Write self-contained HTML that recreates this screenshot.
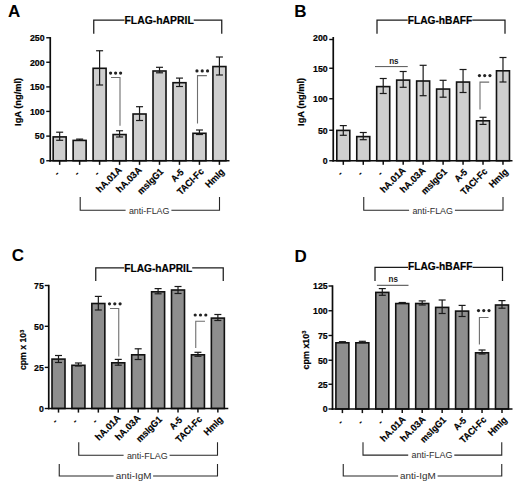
<!DOCTYPE html>
<html><head><meta charset="utf-8"><title>Figure</title>
<style>
html,body{margin:0;padding:0;background:#fff;}
body{width:520px;height:489px;overflow:hidden;font-family:"Liberation Sans", sans-serif;}
svg{display:block;font-family:"Liberation Sans", sans-serif;}
</style></head>
<body>
<svg width="520" height="489" viewBox="0 0 520 489">
<rect width="520" height="489" fill="#fff"/>
<rect x="53.16" y="136.90" width="13.00" height="23.85" fill="#cfcfcf" stroke="#111" stroke-width="1.6"/>
<line x1="59.66" y1="132.2" x2="59.66" y2="140.3" stroke="#1a1a1a" stroke-width="1.2"/>
<line x1="56.16" y1="132.2" x2="63.16" y2="132.2" stroke="#1a1a1a" stroke-width="1.2"/>
<line x1="56.16" y1="140.3" x2="63.16" y2="140.3" stroke="#1a1a1a" stroke-width="1.2"/>
<line x1="59.66" y1="160.75" x2="59.66" y2="164.85" stroke="#111" stroke-width="1.5"/>
<text x="59.96" y="174.35" font-size="9.5" font-weight="bold" text-anchor="end" fill="#000" transform="rotate(-45 59.96 174.35)" >-</text>
<rect x="73.13" y="140.40" width="13.00" height="20.35" fill="#cfcfcf" stroke="#111" stroke-width="1.6"/>
<line x1="79.63" y1="139.1" x2="79.63" y2="140.2" stroke="#1a1a1a" stroke-width="1.2"/>
<line x1="76.13" y1="139.1" x2="83.13" y2="139.1" stroke="#1a1a1a" stroke-width="1.2"/>
<line x1="76.13" y1="140.2" x2="83.13" y2="140.2" stroke="#1a1a1a" stroke-width="1.2"/>
<line x1="79.63" y1="160.75" x2="79.63" y2="164.85" stroke="#111" stroke-width="1.5"/>
<text x="79.92999999999999" y="174.35" font-size="9.5" font-weight="bold" text-anchor="end" fill="#000" transform="rotate(-45 79.92999999999999 174.35)" >-</text>
<rect x="93.10" y="68.30" width="13.00" height="92.45" fill="#cfcfcf" stroke="#111" stroke-width="1.6"/>
<line x1="99.6" y1="50.75" x2="99.6" y2="85" stroke="#1a1a1a" stroke-width="1.2"/>
<line x1="96.1" y1="50.75" x2="103.1" y2="50.75" stroke="#1a1a1a" stroke-width="1.2"/>
<line x1="96.1" y1="85" x2="103.1" y2="85" stroke="#1a1a1a" stroke-width="1.2"/>
<line x1="99.6" y1="160.75" x2="99.6" y2="164.85" stroke="#111" stroke-width="1.5"/>
<text x="99.89999999999999" y="174.35" font-size="9.5" font-weight="bold" text-anchor="end" fill="#000" transform="rotate(-45 99.89999999999999 174.35)" >-</text>
<rect x="113.07" y="134.55" width="13.00" height="26.20" fill="#cfcfcf" stroke="#111" stroke-width="1.6"/>
<line x1="119.57" y1="130.75" x2="119.57" y2="137" stroke="#1a1a1a" stroke-width="1.2"/>
<line x1="116.07" y1="130.75" x2="123.07" y2="130.75" stroke="#1a1a1a" stroke-width="1.2"/>
<line x1="116.07" y1="137" x2="123.07" y2="137" stroke="#1a1a1a" stroke-width="1.2"/>
<line x1="119.57" y1="160.75" x2="119.57" y2="164.85" stroke="#111" stroke-width="1.5"/>
<text x="122.36999999999999" y="170.65" font-size="9.5" font-weight="bold" text-anchor="end" fill="#000" textLength="31.5" lengthAdjust="spacingAndGlyphs" transform="rotate(-45 122.36999999999999 170.65)" stroke="#000" stroke-width="0.2">hA.01A</text>
<rect x="133.04" y="114.00" width="13.00" height="46.75" fill="#cfcfcf" stroke="#111" stroke-width="1.6"/>
<line x1="139.54000000000002" y1="106.7" x2="139.54000000000002" y2="120.5" stroke="#1a1a1a" stroke-width="1.2"/>
<line x1="136.04000000000002" y1="106.7" x2="143.04000000000002" y2="106.7" stroke="#1a1a1a" stroke-width="1.2"/>
<line x1="136.04000000000002" y1="120.5" x2="143.04000000000002" y2="120.5" stroke="#1a1a1a" stroke-width="1.2"/>
<line x1="139.54000000000002" y1="160.75" x2="139.54000000000002" y2="164.85" stroke="#111" stroke-width="1.5"/>
<text x="142.34000000000003" y="170.65" font-size="9.5" font-weight="bold" text-anchor="end" fill="#000" textLength="31.5" lengthAdjust="spacingAndGlyphs" transform="rotate(-45 142.34000000000003 170.65)" stroke="#000" stroke-width="0.2">hA.03A</text>
<rect x="153.01" y="71.00" width="13.00" height="89.75" fill="#cfcfcf" stroke="#111" stroke-width="1.6"/>
<line x1="159.51" y1="67.3" x2="159.51" y2="72.8" stroke="#1a1a1a" stroke-width="1.2"/>
<line x1="156.01" y1="67.3" x2="163.01" y2="67.3" stroke="#1a1a1a" stroke-width="1.2"/>
<line x1="156.01" y1="72.8" x2="163.01" y2="72.8" stroke="#1a1a1a" stroke-width="1.2"/>
<line x1="159.51" y1="160.75" x2="159.51" y2="164.85" stroke="#111" stroke-width="1.5"/>
<text x="164.01" y="172.35" font-size="9.5" font-weight="bold" text-anchor="end" fill="#000" textLength="32" lengthAdjust="spacingAndGlyphs" transform="rotate(-45 164.01 172.35)" stroke="#000" stroke-width="0.2">msIgG1</text>
<rect x="172.98" y="82.70" width="13.00" height="78.05" fill="#cfcfcf" stroke="#111" stroke-width="1.6"/>
<line x1="179.48000000000002" y1="78.1" x2="179.48000000000002" y2="86.5" stroke="#1a1a1a" stroke-width="1.2"/>
<line x1="175.98000000000002" y1="78.1" x2="182.98000000000002" y2="78.1" stroke="#1a1a1a" stroke-width="1.2"/>
<line x1="175.98000000000002" y1="86.5" x2="182.98000000000002" y2="86.5" stroke="#1a1a1a" stroke-width="1.2"/>
<line x1="179.48000000000002" y1="160.75" x2="179.48000000000002" y2="164.85" stroke="#111" stroke-width="1.5"/>
<text x="184.28000000000003" y="172.85" font-size="9.5" font-weight="bold" text-anchor="end" fill="#000" textLength="13.5" lengthAdjust="spacingAndGlyphs" transform="rotate(-45 184.28000000000003 172.85)" stroke="#000" stroke-width="0.2">A-5</text>
<rect x="192.95" y="133.30" width="13.00" height="27.45" fill="#cfcfcf" stroke="#111" stroke-width="1.6"/>
<line x1="199.45" y1="130" x2="199.45" y2="134.5" stroke="#1a1a1a" stroke-width="1.2"/>
<line x1="195.95" y1="130" x2="202.95" y2="130" stroke="#1a1a1a" stroke-width="1.2"/>
<line x1="195.95" y1="134.5" x2="202.95" y2="134.5" stroke="#1a1a1a" stroke-width="1.2"/>
<line x1="199.45" y1="160.75" x2="199.45" y2="164.85" stroke="#111" stroke-width="1.5"/>
<text x="204.35" y="172.15" font-size="9.5" font-weight="bold" text-anchor="end" fill="#000" textLength="33" lengthAdjust="spacingAndGlyphs" transform="rotate(-45 204.35 172.15)" stroke="#000" stroke-width="0.2">TACI-Fc</text>
<rect x="212.92" y="66.55" width="13.00" height="94.20" fill="#cfcfcf" stroke="#111" stroke-width="1.6"/>
<line x1="219.42000000000002" y1="57" x2="219.42000000000002" y2="75" stroke="#1a1a1a" stroke-width="1.2"/>
<line x1="215.92000000000002" y1="57" x2="222.92000000000002" y2="57" stroke="#1a1a1a" stroke-width="1.2"/>
<line x1="215.92000000000002" y1="75" x2="222.92000000000002" y2="75" stroke="#1a1a1a" stroke-width="1.2"/>
<line x1="219.42000000000002" y1="160.75" x2="219.42000000000002" y2="164.85" stroke="#111" stroke-width="1.5"/>
<text x="225.02" y="172.45000000000002" font-size="9.5" font-weight="bold" text-anchor="end" fill="#000" textLength="22.5" lengthAdjust="spacingAndGlyphs" transform="rotate(-45 225.02 172.45000000000002)" stroke="#000" stroke-width="0.2">HmIg</text>
<line x1="50.25" y1="37.05" x2="50.25" y2="161.6" stroke="#0c0c0c" stroke-width="1.7"/>
<line x1="49.4" y1="160.75" x2="229.5" y2="160.75" stroke="#0c0c0c" stroke-width="1.7"/>
<line x1="46.25" y1="37.75" x2="50.25" y2="37.75" stroke="#0c0c0c" stroke-width="1.4"/>
<text x="44.55" y="41.1" font-size="9.6" font-weight="bold" text-anchor="end" fill="#000" textLength="14.64" lengthAdjust="spacingAndGlyphs" stroke="#000" stroke-width="0.2">250</text>
<line x1="46.25" y1="62.25" x2="50.25" y2="62.25" stroke="#0c0c0c" stroke-width="1.4"/>
<text x="44.55" y="65.6" font-size="9.6" font-weight="bold" text-anchor="end" fill="#000" textLength="14.64" lengthAdjust="spacingAndGlyphs" stroke="#000" stroke-width="0.2">200</text>
<line x1="46.25" y1="86.9" x2="50.25" y2="86.9" stroke="#0c0c0c" stroke-width="1.4"/>
<text x="44.55" y="90.25" font-size="9.6" font-weight="bold" text-anchor="end" fill="#000" textLength="14.64" lengthAdjust="spacingAndGlyphs" stroke="#000" stroke-width="0.2">150</text>
<line x1="46.25" y1="111.4" x2="50.25" y2="111.4" stroke="#0c0c0c" stroke-width="1.4"/>
<text x="44.55" y="114.75" font-size="9.6" font-weight="bold" text-anchor="end" fill="#000" textLength="14.64" lengthAdjust="spacingAndGlyphs" stroke="#000" stroke-width="0.2">100</text>
<line x1="46.25" y1="136.1" x2="50.25" y2="136.1" stroke="#0c0c0c" stroke-width="1.4"/>
<text x="44.55" y="139.45" font-size="9.6" font-weight="bold" text-anchor="end" fill="#000" textLength="9.76" lengthAdjust="spacingAndGlyphs" stroke="#000" stroke-width="0.2">50</text>
<line x1="46.25" y1="160.75" x2="50.25" y2="160.75" stroke="#0c0c0c" stroke-width="1.4"/>
<text x="44.55" y="164.1" font-size="9.6" font-weight="bold" text-anchor="end" fill="#000" textLength="4.88" lengthAdjust="spacingAndGlyphs" stroke="#000" stroke-width="0.2">0</text>
<text x="7.9" y="16.8" font-size="17" font-weight="bold" text-anchor="start" fill="#000" >A</text>
<polyline points="93.75,33.75 93.75,20.1 124.5,20.1" fill="none" stroke="#1c1c1c" stroke-width="1.25"/>
<polyline points="193.75,20.1 221.75,20.1 221.75,33.75" fill="none" stroke="#1c1c1c" stroke-width="1.25"/>
<text x="124.5" y="24.0" font-size="11.5" font-weight="bold" text-anchor="start" fill="#000" textLength="69.25" lengthAdjust="spacingAndGlyphs" stroke="#000" stroke-width="0.2">FLAG-hAPRIL</text>
<polyline points="80.2,197 80.2,210.3 125.60000000000001,210.3" fill="none" stroke="#262626" stroke-width="1.1"/>
<polyline points="171.4,210.3 219.5,210.3 219.5,197" fill="none" stroke="#262626" stroke-width="1.1"/>
<text x="128.9" y="213.60000000000002" font-size="9.5" font-weight="normal" text-anchor="start" fill="#2e2e2e" textLength="40.599999999999994" lengthAdjust="spacingAndGlyphs" >anti-FLAG</text>
<text x="21.3" y="101.9" font-size="9.5" font-weight="bold" text-anchor="middle" fill="#000" textLength="48" lengthAdjust="spacingAndGlyphs" transform="rotate(-90 21.3 101.9)" stroke="#000" stroke-width="0.2">IgA (ng/ml)</text>
<circle cx="110.60" cy="73.1" r="1.6" fill="#222"/><circle cx="115.60" cy="73.1" r="1.6" fill="#222"/><circle cx="120.60" cy="73.1" r="1.6" fill="#222"/>
<polyline points="111,77.5 120,77.5 120,125.75" fill="none" stroke="#6e6e6e" stroke-width="1.1"/>
<circle cx="196.95" cy="70.9" r="1.6" fill="#222"/><circle cx="202.25" cy="70.9" r="1.6" fill="#222"/><circle cx="207.55" cy="70.9" r="1.6" fill="#222"/>
<polyline points="206.9,75.6 197.5,75.6 197.5,123.5" fill="none" stroke="#6e6e6e" stroke-width="1.1"/>
<rect x="336.80" y="130.40" width="13.00" height="30.35" fill="#cfcfcf" stroke="#111" stroke-width="1.6"/>
<line x1="343.3" y1="125.6" x2="343.3" y2="135.3" stroke="#1a1a1a" stroke-width="1.2"/>
<line x1="339.8" y1="125.6" x2="346.8" y2="125.6" stroke="#1a1a1a" stroke-width="1.2"/>
<line x1="339.8" y1="135.3" x2="346.8" y2="135.3" stroke="#1a1a1a" stroke-width="1.2"/>
<line x1="343.3" y1="160.75" x2="343.3" y2="164.85" stroke="#111" stroke-width="1.5"/>
<text x="343.25" y="174.25" font-size="9.5" font-weight="bold" text-anchor="end" fill="#000" transform="rotate(-45 343.25 174.25)" >-</text>
<rect x="356.76" y="136.60" width="13.00" height="24.15" fill="#cfcfcf" stroke="#111" stroke-width="1.6"/>
<line x1="363.26" y1="132.5" x2="363.26" y2="139.7" stroke="#1a1a1a" stroke-width="1.2"/>
<line x1="359.76" y1="132.5" x2="366.76" y2="132.5" stroke="#1a1a1a" stroke-width="1.2"/>
<line x1="359.76" y1="139.7" x2="366.76" y2="139.7" stroke="#1a1a1a" stroke-width="1.2"/>
<line x1="363.26" y1="160.75" x2="363.26" y2="164.85" stroke="#111" stroke-width="1.5"/>
<text x="363.21" y="174.25" font-size="9.5" font-weight="bold" text-anchor="end" fill="#000" transform="rotate(-45 363.21 174.25)" >-</text>
<rect x="376.72" y="86.60" width="13.00" height="74.15" fill="#cfcfcf" stroke="#111" stroke-width="1.6"/>
<line x1="383.22" y1="78.5" x2="383.22" y2="93.5" stroke="#1a1a1a" stroke-width="1.2"/>
<line x1="379.72" y1="78.5" x2="386.72" y2="78.5" stroke="#1a1a1a" stroke-width="1.2"/>
<line x1="379.72" y1="93.5" x2="386.72" y2="93.5" stroke="#1a1a1a" stroke-width="1.2"/>
<line x1="383.22" y1="160.75" x2="383.22" y2="164.85" stroke="#111" stroke-width="1.5"/>
<text x="383.17" y="174.25" font-size="9.5" font-weight="bold" text-anchor="end" fill="#000" transform="rotate(-45 383.17 174.25)" >-</text>
<rect x="396.68" y="80.10" width="13.00" height="80.65" fill="#cfcfcf" stroke="#111" stroke-width="1.6"/>
<line x1="403.18" y1="71.5" x2="403.18" y2="87.3" stroke="#1a1a1a" stroke-width="1.2"/>
<line x1="399.68" y1="71.5" x2="406.68" y2="71.5" stroke="#1a1a1a" stroke-width="1.2"/>
<line x1="399.68" y1="87.3" x2="406.68" y2="87.3" stroke="#1a1a1a" stroke-width="1.2"/>
<line x1="403.18" y1="160.75" x2="403.18" y2="164.85" stroke="#111" stroke-width="1.5"/>
<text x="406.18" y="171.05" font-size="9.5" font-weight="bold" text-anchor="end" fill="#000" textLength="31.5" lengthAdjust="spacingAndGlyphs" transform="rotate(-45 406.18 171.05)" stroke="#000" stroke-width="0.2">hA.01A</text>
<rect x="416.64" y="81.00" width="13.00" height="79.75" fill="#cfcfcf" stroke="#111" stroke-width="1.6"/>
<line x1="423.14000000000004" y1="65.3" x2="423.14000000000004" y2="95.7" stroke="#1a1a1a" stroke-width="1.2"/>
<line x1="419.64000000000004" y1="65.3" x2="426.64000000000004" y2="65.3" stroke="#1a1a1a" stroke-width="1.2"/>
<line x1="419.64000000000004" y1="95.7" x2="426.64000000000004" y2="95.7" stroke="#1a1a1a" stroke-width="1.2"/>
<line x1="423.14000000000004" y1="160.75" x2="423.14000000000004" y2="164.85" stroke="#111" stroke-width="1.5"/>
<text x="426.14000000000004" y="171.05" font-size="9.5" font-weight="bold" text-anchor="end" fill="#000" textLength="31.5" lengthAdjust="spacingAndGlyphs" transform="rotate(-45 426.14000000000004 171.05)" stroke="#000" stroke-width="0.2">hA.03A</text>
<rect x="436.60" y="89.05" width="13.00" height="71.70" fill="#cfcfcf" stroke="#111" stroke-width="1.6"/>
<line x1="443.1" y1="80.3" x2="443.1" y2="97.2" stroke="#1a1a1a" stroke-width="1.2"/>
<line x1="439.6" y1="80.3" x2="446.6" y2="80.3" stroke="#1a1a1a" stroke-width="1.2"/>
<line x1="439.6" y1="97.2" x2="446.6" y2="97.2" stroke="#1a1a1a" stroke-width="1.2"/>
<line x1="443.1" y1="160.75" x2="443.1" y2="164.85" stroke="#111" stroke-width="1.5"/>
<text x="447.6" y="172.35" font-size="9.5" font-weight="bold" text-anchor="end" fill="#000" textLength="32" lengthAdjust="spacingAndGlyphs" transform="rotate(-45 447.6 172.35)" stroke="#000" stroke-width="0.2">msIgG1</text>
<rect x="456.56" y="82.05" width="13.00" height="78.70" fill="#cfcfcf" stroke="#111" stroke-width="1.6"/>
<line x1="463.06" y1="69.5" x2="463.06" y2="92.5" stroke="#1a1a1a" stroke-width="1.2"/>
<line x1="459.56" y1="69.5" x2="466.56" y2="69.5" stroke="#1a1a1a" stroke-width="1.2"/>
<line x1="459.56" y1="92.5" x2="466.56" y2="92.5" stroke="#1a1a1a" stroke-width="1.2"/>
<line x1="463.06" y1="160.75" x2="463.06" y2="164.85" stroke="#111" stroke-width="1.5"/>
<text x="467.86" y="172.85" font-size="9.5" font-weight="bold" text-anchor="end" fill="#000" textLength="13.5" lengthAdjust="spacingAndGlyphs" transform="rotate(-45 467.86 172.85)" stroke="#000" stroke-width="0.2">A-5</text>
<rect x="476.52" y="120.80" width="13.00" height="39.95" fill="#cfcfcf" stroke="#111" stroke-width="1.6"/>
<line x1="483.02000000000004" y1="117.3" x2="483.02000000000004" y2="124.4" stroke="#1a1a1a" stroke-width="1.2"/>
<line x1="479.52000000000004" y1="117.3" x2="486.52000000000004" y2="117.3" stroke="#1a1a1a" stroke-width="1.2"/>
<line x1="479.52000000000004" y1="124.4" x2="486.52000000000004" y2="124.4" stroke="#1a1a1a" stroke-width="1.2"/>
<line x1="483.02000000000004" y1="160.75" x2="483.02000000000004" y2="164.85" stroke="#111" stroke-width="1.5"/>
<text x="487.92" y="172.15" font-size="9.5" font-weight="bold" text-anchor="end" fill="#000" textLength="33" lengthAdjust="spacingAndGlyphs" transform="rotate(-45 487.92 172.15)" stroke="#000" stroke-width="0.2">TACI-Fc</text>
<rect x="496.48" y="70.80" width="13.00" height="89.95" fill="#cfcfcf" stroke="#111" stroke-width="1.6"/>
<line x1="502.98" y1="57.5" x2="502.98" y2="82" stroke="#1a1a1a" stroke-width="1.2"/>
<line x1="499.48" y1="57.5" x2="506.48" y2="57.5" stroke="#1a1a1a" stroke-width="1.2"/>
<line x1="499.48" y1="82" x2="506.48" y2="82" stroke="#1a1a1a" stroke-width="1.2"/>
<line x1="502.98" y1="160.75" x2="502.98" y2="164.85" stroke="#111" stroke-width="1.5"/>
<text x="508.58000000000004" y="172.45000000000002" font-size="9.5" font-weight="bold" text-anchor="end" fill="#000" textLength="22.5" lengthAdjust="spacingAndGlyphs" transform="rotate(-45 508.58000000000004 172.45000000000002)" stroke="#000" stroke-width="0.2">HmIg</text>
<line x1="333.25" y1="37.0" x2="333.25" y2="161.6" stroke="#0c0c0c" stroke-width="1.7"/>
<line x1="332.4" y1="160.75" x2="512.5" y2="160.75" stroke="#0c0c0c" stroke-width="1.7"/>
<line x1="329.25" y1="39.5" x2="333.25" y2="39.5" stroke="#0c0c0c" stroke-width="1.4"/>
<text x="327.75" y="40.85" font-size="9.6" font-weight="bold" text-anchor="end" fill="#000" textLength="14.64" lengthAdjust="spacingAndGlyphs" stroke="#000" stroke-width="0.2">200</text>
<line x1="329.25" y1="68.25" x2="333.25" y2="68.25" stroke="#0c0c0c" stroke-width="1.4"/>
<text x="327.75" y="71.6" font-size="9.6" font-weight="bold" text-anchor="end" fill="#000" textLength="14.64" lengthAdjust="spacingAndGlyphs" stroke="#000" stroke-width="0.2">150</text>
<line x1="329.25" y1="98.75" x2="333.25" y2="98.75" stroke="#0c0c0c" stroke-width="1.4"/>
<text x="327.75" y="102.1" font-size="9.6" font-weight="bold" text-anchor="end" fill="#000" textLength="14.64" lengthAdjust="spacingAndGlyphs" stroke="#000" stroke-width="0.2">100</text>
<line x1="329.25" y1="130.25" x2="333.25" y2="130.25" stroke="#0c0c0c" stroke-width="1.4"/>
<text x="327.75" y="133.6" font-size="9.6" font-weight="bold" text-anchor="end" fill="#000" textLength="9.76" lengthAdjust="spacingAndGlyphs" stroke="#000" stroke-width="0.2">50</text>
<line x1="329.25" y1="160.75" x2="333.25" y2="160.75" stroke="#0c0c0c" stroke-width="1.4"/>
<text x="327.75" y="164.1" font-size="9.6" font-weight="bold" text-anchor="end" fill="#000" textLength="4.88" lengthAdjust="spacingAndGlyphs" stroke="#000" stroke-width="0.2">0</text>
<text x="294.3" y="17.3" font-size="17" font-weight="bold" text-anchor="start" fill="#000" >B</text>
<polyline points="377,33.75 377,20.2 407.7,20.2" fill="none" stroke="#1c1c1c" stroke-width="1.25"/>
<polyline points="472.3,20.2 505,20.2 505,33.75" fill="none" stroke="#1c1c1c" stroke-width="1.25"/>
<text x="407.7" y="24.0" font-size="11.5" font-weight="bold" text-anchor="start" fill="#000" textLength="64.60000000000002" lengthAdjust="spacingAndGlyphs" stroke="#000" stroke-width="0.2">FLAG-hBAFF</text>
<polyline points="363.75,197 363.75,210.3 409.09999999999997,210.3" fill="none" stroke="#262626" stroke-width="1.1"/>
<polyline points="454.9,210.3 503,210.3 503,197" fill="none" stroke="#262626" stroke-width="1.1"/>
<text x="412.4" y="213.60000000000002" font-size="9.5" font-weight="normal" text-anchor="start" fill="#2e2e2e" textLength="40.60000000000002" lengthAdjust="spacingAndGlyphs" >anti-FLAG</text>
<text x="304.3" y="101.9" font-size="9.5" font-weight="bold" text-anchor="middle" fill="#000" textLength="48" lengthAdjust="spacingAndGlyphs" transform="rotate(-90 304.3 101.9)" stroke="#000" stroke-width="0.2">IgA (ng/ml)</text>
<line x1="375" y1="66.6" x2="407.75" y2="66.6" stroke="#555" stroke-width="1"/>
<text x="398.6" y="63.6" font-size="9.5" font-weight="bold" text-anchor="end" fill="#1a1a1a" textLength="9.4" lengthAdjust="spacingAndGlyphs" >ns</text>
<circle cx="479.45" cy="75.6" r="1.6" fill="#222"/><circle cx="484.70" cy="75.6" r="1.6" fill="#222"/><circle cx="489.95" cy="75.6" r="1.6" fill="#222"/>
<polyline points="489.2,82.1 480,82.1 480,109.5" fill="none" stroke="#6e6e6e" stroke-width="1.1"/>
<rect x="52.00" y="359.10" width="13.00" height="49.40" fill="#8e8e8e" stroke="#111" stroke-width="1.6"/>
<line x1="58.5" y1="355.5" x2="58.5" y2="362.5" stroke="#1a1a1a" stroke-width="1.2"/>
<line x1="55.0" y1="355.5" x2="62.0" y2="355.5" stroke="#1a1a1a" stroke-width="1.2"/>
<line x1="55.0" y1="362.5" x2="62.0" y2="362.5" stroke="#1a1a1a" stroke-width="1.2"/>
<line x1="58.5" y1="408.5" x2="58.5" y2="412.6" stroke="#111" stroke-width="1.5"/>
<text x="58.1" y="422.0" font-size="9.5" font-weight="bold" text-anchor="end" fill="#000" transform="rotate(-45 58.1 422.0)" >-</text>
<rect x="71.92" y="365.30" width="13.00" height="43.20" fill="#8e8e8e" stroke="#111" stroke-width="1.6"/>
<line x1="78.42" y1="363" x2="78.42" y2="366" stroke="#1a1a1a" stroke-width="1.2"/>
<line x1="74.92" y1="363" x2="81.92" y2="363" stroke="#1a1a1a" stroke-width="1.2"/>
<line x1="74.92" y1="366" x2="81.92" y2="366" stroke="#1a1a1a" stroke-width="1.2"/>
<line x1="78.42" y1="408.5" x2="78.42" y2="412.6" stroke="#111" stroke-width="1.5"/>
<text x="78.02000000000001" y="422.0" font-size="9.5" font-weight="bold" text-anchor="end" fill="#000" transform="rotate(-45 78.02000000000001 422.0)" >-</text>
<rect x="91.84" y="303.50" width="13.00" height="105.00" fill="#8e8e8e" stroke="#111" stroke-width="1.6"/>
<line x1="98.34" y1="296.4" x2="98.34" y2="310" stroke="#1a1a1a" stroke-width="1.2"/>
<line x1="94.84" y1="296.4" x2="101.84" y2="296.4" stroke="#1a1a1a" stroke-width="1.2"/>
<line x1="94.84" y1="310" x2="101.84" y2="310" stroke="#1a1a1a" stroke-width="1.2"/>
<line x1="98.34" y1="408.5" x2="98.34" y2="412.6" stroke="#111" stroke-width="1.5"/>
<text x="97.94000000000001" y="422.0" font-size="9.5" font-weight="bold" text-anchor="end" fill="#000" transform="rotate(-45 97.94000000000001 422.0)" >-</text>
<rect x="111.76" y="362.80" width="13.00" height="45.70" fill="#8e8e8e" stroke="#111" stroke-width="1.6"/>
<line x1="118.26" y1="359.4" x2="118.26" y2="365.2" stroke="#1a1a1a" stroke-width="1.2"/>
<line x1="114.76" y1="359.4" x2="121.76" y2="359.4" stroke="#1a1a1a" stroke-width="1.2"/>
<line x1="114.76" y1="365.2" x2="121.76" y2="365.2" stroke="#1a1a1a" stroke-width="1.2"/>
<line x1="118.26" y1="408.5" x2="118.26" y2="412.6" stroke="#111" stroke-width="1.5"/>
<text x="121.26" y="418.7" font-size="9.5" font-weight="bold" text-anchor="end" fill="#000" textLength="31.5" lengthAdjust="spacingAndGlyphs" transform="rotate(-45 121.26 418.7)" stroke="#000" stroke-width="0.2">hA.01A</text>
<rect x="131.68" y="354.80" width="13.00" height="53.70" fill="#8e8e8e" stroke="#111" stroke-width="1.6"/>
<line x1="138.18" y1="348.8" x2="138.18" y2="359.5" stroke="#1a1a1a" stroke-width="1.2"/>
<line x1="134.68" y1="348.8" x2="141.68" y2="348.8" stroke="#1a1a1a" stroke-width="1.2"/>
<line x1="134.68" y1="359.5" x2="141.68" y2="359.5" stroke="#1a1a1a" stroke-width="1.2"/>
<line x1="138.18" y1="408.5" x2="138.18" y2="412.6" stroke="#111" stroke-width="1.5"/>
<text x="141.18" y="418.7" font-size="9.5" font-weight="bold" text-anchor="end" fill="#000" textLength="31.5" lengthAdjust="spacingAndGlyphs" transform="rotate(-45 141.18 418.7)" stroke="#000" stroke-width="0.2">hA.03A</text>
<rect x="151.60" y="291.80" width="13.00" height="116.70" fill="#8e8e8e" stroke="#111" stroke-width="1.6"/>
<line x1="158.10000000000002" y1="288.6" x2="158.10000000000002" y2="293.8" stroke="#1a1a1a" stroke-width="1.2"/>
<line x1="154.60000000000002" y1="288.6" x2="161.60000000000002" y2="288.6" stroke="#1a1a1a" stroke-width="1.2"/>
<line x1="154.60000000000002" y1="293.8" x2="161.60000000000002" y2="293.8" stroke="#1a1a1a" stroke-width="1.2"/>
<line x1="158.10000000000002" y1="408.5" x2="158.10000000000002" y2="412.6" stroke="#111" stroke-width="1.5"/>
<text x="162.60000000000002" y="420.09999999999997" font-size="9.5" font-weight="bold" text-anchor="end" fill="#000" textLength="32" lengthAdjust="spacingAndGlyphs" transform="rotate(-45 162.60000000000002 420.09999999999997)" stroke="#000" stroke-width="0.2">msIgG1</text>
<rect x="171.52" y="290.00" width="13.00" height="118.50" fill="#8e8e8e" stroke="#111" stroke-width="1.6"/>
<line x1="178.02000000000004" y1="286.5" x2="178.02000000000004" y2="293.5" stroke="#1a1a1a" stroke-width="1.2"/>
<line x1="174.52000000000004" y1="286.5" x2="181.52000000000004" y2="286.5" stroke="#1a1a1a" stroke-width="1.2"/>
<line x1="174.52000000000004" y1="293.5" x2="181.52000000000004" y2="293.5" stroke="#1a1a1a" stroke-width="1.2"/>
<line x1="178.02000000000004" y1="408.5" x2="178.02000000000004" y2="412.6" stroke="#111" stroke-width="1.5"/>
<text x="182.82000000000005" y="420.59999999999997" font-size="9.5" font-weight="bold" text-anchor="end" fill="#000" textLength="13.5" lengthAdjust="spacingAndGlyphs" transform="rotate(-45 182.82000000000005 420.59999999999997)" stroke="#000" stroke-width="0.2">A-5</text>
<rect x="191.44" y="354.80" width="13.00" height="53.70" fill="#8e8e8e" stroke="#111" stroke-width="1.6"/>
<line x1="197.94" y1="352.3" x2="197.94" y2="356.3" stroke="#1a1a1a" stroke-width="1.2"/>
<line x1="194.44" y1="352.3" x2="201.44" y2="352.3" stroke="#1a1a1a" stroke-width="1.2"/>
<line x1="194.44" y1="356.3" x2="201.44" y2="356.3" stroke="#1a1a1a" stroke-width="1.2"/>
<line x1="197.94" y1="408.5" x2="197.94" y2="412.6" stroke="#111" stroke-width="1.5"/>
<text x="202.84" y="419.9" font-size="9.5" font-weight="bold" text-anchor="end" fill="#000" textLength="33" lengthAdjust="spacingAndGlyphs" transform="rotate(-45 202.84 419.9)" stroke="#000" stroke-width="0.2">TACI-Fc</text>
<rect x="211.36" y="318.10" width="13.00" height="90.40" fill="#8e8e8e" stroke="#111" stroke-width="1.6"/>
<line x1="217.86" y1="314.5" x2="217.86" y2="320.5" stroke="#1a1a1a" stroke-width="1.2"/>
<line x1="214.36" y1="314.5" x2="221.36" y2="314.5" stroke="#1a1a1a" stroke-width="1.2"/>
<line x1="214.36" y1="320.5" x2="221.36" y2="320.5" stroke="#1a1a1a" stroke-width="1.2"/>
<line x1="217.86" y1="408.5" x2="217.86" y2="412.6" stroke="#111" stroke-width="1.5"/>
<text x="223.46" y="420.2" font-size="9.5" font-weight="bold" text-anchor="end" fill="#000" textLength="22.5" lengthAdjust="spacingAndGlyphs" transform="rotate(-45 223.46 420.2)" stroke="#000" stroke-width="0.2">HmIg</text>
<line x1="48.75" y1="284.8" x2="48.75" y2="409.35" stroke="#0c0c0c" stroke-width="1.7"/>
<line x1="47.9" y1="408.5" x2="228.3" y2="408.5" stroke="#0c0c0c" stroke-width="1.7"/>
<line x1="44.75" y1="285.5" x2="48.75" y2="285.5" stroke="#0c0c0c" stroke-width="1.4"/>
<text x="43.85" y="288.85" font-size="9.6" font-weight="bold" text-anchor="end" fill="#000" textLength="9.76" lengthAdjust="spacingAndGlyphs" stroke="#000" stroke-width="0.2">75</text>
<line x1="44.75" y1="326.3" x2="48.75" y2="326.3" stroke="#0c0c0c" stroke-width="1.4"/>
<text x="43.85" y="329.65000000000003" font-size="9.6" font-weight="bold" text-anchor="end" fill="#000" textLength="9.76" lengthAdjust="spacingAndGlyphs" stroke="#000" stroke-width="0.2">50</text>
<line x1="44.75" y1="367.4" x2="48.75" y2="367.4" stroke="#0c0c0c" stroke-width="1.4"/>
<text x="43.85" y="370.75" font-size="9.6" font-weight="bold" text-anchor="end" fill="#000" textLength="9.76" lengthAdjust="spacingAndGlyphs" stroke="#000" stroke-width="0.2">25</text>
<line x1="44.75" y1="408.5" x2="48.75" y2="408.5" stroke="#0c0c0c" stroke-width="1.4"/>
<text x="43.85" y="411.85" font-size="9.6" font-weight="bold" text-anchor="end" fill="#000" textLength="4.88" lengthAdjust="spacingAndGlyphs" stroke="#000" stroke-width="0.2">0</text>
<text x="11.7" y="260.8" font-size="17" font-weight="bold" text-anchor="start" fill="#000" >C</text>
<polyline points="95.75,281 95.75,267.9 124.2,267.9" fill="none" stroke="#1c1c1c" stroke-width="1.25"/>
<polyline points="192.2,267.9 223.25,267.9 223.25,281" fill="none" stroke="#1c1c1c" stroke-width="1.25"/>
<text x="124.2" y="271.59999999999997" font-size="11.5" font-weight="bold" text-anchor="start" fill="#000" textLength="67.99999999999999" lengthAdjust="spacingAndGlyphs" stroke="#000" stroke-width="0.2">FLAG-hAPRIL</text>
<polyline points="78.75,442.25 78.75,455.2 123.60000000000001,455.2" fill="none" stroke="#262626" stroke-width="1.1"/>
<polyline points="169.6,455.2 217.5,455.2 217.5,442.25" fill="none" stroke="#262626" stroke-width="1.1"/>
<text x="126.9" y="458.5" font-size="9.5" font-weight="normal" text-anchor="start" fill="#2e2e2e" textLength="40.79999999999998" lengthAdjust="spacingAndGlyphs" >anti-FLAG</text>
<polyline points="59.25,464 59.25,476 113.6,476" fill="none" stroke="#262626" stroke-width="1.1"/>
<polyline points="153.1,476 217.5,476 217.5,464" fill="none" stroke="#262626" stroke-width="1.1"/>
<text x="115.8" y="479.3" font-size="9.5" font-weight="normal" text-anchor="start" fill="#2e2e2e" textLength="35.7" lengthAdjust="spacingAndGlyphs" >anti-IgM</text>
<text x="26.3" y="349.9" font-size="9.6" font-weight="bold" text-anchor="middle" fill="#000" textLength="40.3" lengthAdjust="spacingAndGlyphs" transform="rotate(-90 26.3 349.9)" stroke="#000" stroke-width="0.2">cpm x 10<tspan dy="-2.5" font-size="6.1">3</tspan></text>
<circle cx="109.50" cy="303.8" r="1.6" fill="#222"/><circle cx="114.80" cy="303.8" r="1.6" fill="#222"/><circle cx="120.10" cy="303.8" r="1.6" fill="#222"/>
<polyline points="110,308.5 118.75,308.5 118.75,356.5" fill="none" stroke="#6e6e6e" stroke-width="1.1"/>
<circle cx="195.20" cy="315.0" r="1.6" fill="#222"/><circle cx="200.50" cy="315.0" r="1.6" fill="#222"/><circle cx="205.80" cy="315.0" r="1.6" fill="#222"/>
<polyline points="205,321.3 195.75,321.3 195.75,348.1" fill="none" stroke="#6e6e6e" stroke-width="1.1"/>
<rect x="335.90" y="342.80" width="13.00" height="66.20" fill="#8e8e8e" stroke="#111" stroke-width="1.6"/>
<line x1="342.40000000000003" y1="341.7" x2="342.40000000000003" y2="342.3" stroke="#1a1a1a" stroke-width="1.2"/>
<line x1="338.90000000000003" y1="341.7" x2="345.90000000000003" y2="341.7" stroke="#1a1a1a" stroke-width="1.2"/>
<line x1="338.90000000000003" y1="342.3" x2="345.90000000000003" y2="342.3" stroke="#1a1a1a" stroke-width="1.2"/>
<line x1="342.40000000000003" y1="409" x2="342.40000000000003" y2="413.1" stroke="#111" stroke-width="1.5"/>
<text x="343.6" y="423" font-size="9.5" font-weight="bold" text-anchor="end" fill="#000" transform="rotate(-45 343.6 423)" >-</text>
<rect x="355.85" y="342.80" width="13.00" height="66.20" fill="#8e8e8e" stroke="#111" stroke-width="1.6"/>
<line x1="362.35" y1="341.3" x2="362.35" y2="342.7" stroke="#1a1a1a" stroke-width="1.2"/>
<line x1="358.85" y1="341.3" x2="365.85" y2="341.3" stroke="#1a1a1a" stroke-width="1.2"/>
<line x1="358.85" y1="342.7" x2="365.85" y2="342.7" stroke="#1a1a1a" stroke-width="1.2"/>
<line x1="362.35" y1="409" x2="362.35" y2="413.1" stroke="#111" stroke-width="1.5"/>
<text x="363.55" y="423" font-size="9.5" font-weight="bold" text-anchor="end" fill="#000" transform="rotate(-45 363.55 423)" >-</text>
<rect x="375.80" y="292.40" width="13.00" height="116.60" fill="#8e8e8e" stroke="#111" stroke-width="1.6"/>
<line x1="382.3" y1="288.6" x2="382.3" y2="295.3" stroke="#1a1a1a" stroke-width="1.2"/>
<line x1="378.8" y1="288.6" x2="385.8" y2="288.6" stroke="#1a1a1a" stroke-width="1.2"/>
<line x1="378.8" y1="295.3" x2="385.8" y2="295.3" stroke="#1a1a1a" stroke-width="1.2"/>
<line x1="382.3" y1="409" x2="382.3" y2="413.1" stroke="#111" stroke-width="1.5"/>
<text x="383.5" y="423" font-size="9.5" font-weight="bold" text-anchor="end" fill="#000" transform="rotate(-45 383.5 423)" >-</text>
<rect x="395.75" y="303.55" width="13.00" height="105.45" fill="#8e8e8e" stroke="#111" stroke-width="1.6"/>
<line x1="402.25000000000006" y1="302.5" x2="402.25000000000006" y2="303" stroke="#1a1a1a" stroke-width="1.2"/>
<line x1="398.75000000000006" y1="302.5" x2="405.75000000000006" y2="302.5" stroke="#1a1a1a" stroke-width="1.2"/>
<line x1="398.75000000000006" y1="303" x2="405.75000000000006" y2="303" stroke="#1a1a1a" stroke-width="1.2"/>
<line x1="402.25000000000006" y1="409" x2="402.25000000000006" y2="413.1" stroke="#111" stroke-width="1.5"/>
<text x="406.25000000000006" y="419.9" font-size="9.5" font-weight="bold" text-anchor="end" fill="#000" textLength="31.5" lengthAdjust="spacingAndGlyphs" transform="rotate(-45 406.25000000000006 419.9)" stroke="#000" stroke-width="0.2">hA.01A</text>
<rect x="415.70" y="303.50" width="13.00" height="105.50" fill="#8e8e8e" stroke="#111" stroke-width="1.6"/>
<line x1="422.20000000000005" y1="300.9" x2="422.20000000000005" y2="305" stroke="#1a1a1a" stroke-width="1.2"/>
<line x1="418.70000000000005" y1="300.9" x2="425.70000000000005" y2="300.9" stroke="#1a1a1a" stroke-width="1.2"/>
<line x1="418.70000000000005" y1="305" x2="425.70000000000005" y2="305" stroke="#1a1a1a" stroke-width="1.2"/>
<line x1="422.20000000000005" y1="409" x2="422.20000000000005" y2="413.1" stroke="#111" stroke-width="1.5"/>
<text x="426.20000000000005" y="419.9" font-size="9.5" font-weight="bold" text-anchor="end" fill="#000" textLength="31.5" lengthAdjust="spacingAndGlyphs" transform="rotate(-45 426.20000000000005 419.9)" stroke="#000" stroke-width="0.2">hA.03A</text>
<rect x="435.65" y="307.40" width="13.00" height="101.60" fill="#8e8e8e" stroke="#111" stroke-width="1.6"/>
<line x1="442.15000000000003" y1="300" x2="442.15000000000003" y2="313.5" stroke="#1a1a1a" stroke-width="1.2"/>
<line x1="438.65000000000003" y1="300" x2="445.65000000000003" y2="300" stroke="#1a1a1a" stroke-width="1.2"/>
<line x1="438.65000000000003" y1="313.5" x2="445.65000000000003" y2="313.5" stroke="#1a1a1a" stroke-width="1.2"/>
<line x1="442.15000000000003" y1="409" x2="442.15000000000003" y2="413.1" stroke="#111" stroke-width="1.5"/>
<text x="446.65000000000003" y="420.59999999999997" font-size="9.5" font-weight="bold" text-anchor="end" fill="#000" textLength="32" lengthAdjust="spacingAndGlyphs" transform="rotate(-45 446.65000000000003 420.59999999999997)" stroke="#000" stroke-width="0.2">msIgG1</text>
<rect x="455.60" y="311.10" width="13.00" height="97.90" fill="#8e8e8e" stroke="#111" stroke-width="1.6"/>
<line x1="462.1" y1="305.4" x2="462.1" y2="316.5" stroke="#1a1a1a" stroke-width="1.2"/>
<line x1="458.6" y1="305.4" x2="465.6" y2="305.4" stroke="#1a1a1a" stroke-width="1.2"/>
<line x1="458.6" y1="316.5" x2="465.6" y2="316.5" stroke="#1a1a1a" stroke-width="1.2"/>
<line x1="462.1" y1="409" x2="462.1" y2="413.1" stroke="#111" stroke-width="1.5"/>
<text x="466.90000000000003" y="421.09999999999997" font-size="9.5" font-weight="bold" text-anchor="end" fill="#000" textLength="13.5" lengthAdjust="spacingAndGlyphs" transform="rotate(-45 466.90000000000003 421.09999999999997)" stroke="#000" stroke-width="0.2">A-5</text>
<rect x="475.55" y="352.80" width="13.00" height="56.20" fill="#8e8e8e" stroke="#111" stroke-width="1.6"/>
<line x1="482.05" y1="350" x2="482.05" y2="354" stroke="#1a1a1a" stroke-width="1.2"/>
<line x1="478.55" y1="350" x2="485.55" y2="350" stroke="#1a1a1a" stroke-width="1.2"/>
<line x1="478.55" y1="354" x2="485.55" y2="354" stroke="#1a1a1a" stroke-width="1.2"/>
<line x1="482.05" y1="409" x2="482.05" y2="413.1" stroke="#111" stroke-width="1.5"/>
<text x="486.95" y="420.4" font-size="9.5" font-weight="bold" text-anchor="end" fill="#000" textLength="33" lengthAdjust="spacingAndGlyphs" transform="rotate(-45 486.95 420.4)" stroke="#000" stroke-width="0.2">TACI-Fc</text>
<rect x="495.50" y="305.00" width="13.00" height="104.00" fill="#8e8e8e" stroke="#111" stroke-width="1.6"/>
<line x1="502.00000000000006" y1="300.6" x2="502.00000000000006" y2="308.2" stroke="#1a1a1a" stroke-width="1.2"/>
<line x1="498.50000000000006" y1="300.6" x2="505.50000000000006" y2="300.6" stroke="#1a1a1a" stroke-width="1.2"/>
<line x1="498.50000000000006" y1="308.2" x2="505.50000000000006" y2="308.2" stroke="#1a1a1a" stroke-width="1.2"/>
<line x1="502.00000000000006" y1="409" x2="502.00000000000006" y2="413.1" stroke="#111" stroke-width="1.5"/>
<text x="507.6000000000001" y="420.7" font-size="9.5" font-weight="bold" text-anchor="end" fill="#000" textLength="22.5" lengthAdjust="spacingAndGlyphs" transform="rotate(-45 507.6000000000001 420.7)" stroke="#000" stroke-width="0.2">HmIg</text>
<line x1="332.5" y1="285.3" x2="332.5" y2="409.85" stroke="#0c0c0c" stroke-width="1.7"/>
<line x1="331.65" y1="409" x2="512.5" y2="409" stroke="#0c0c0c" stroke-width="1.7"/>
<line x1="328.5" y1="286" x2="332.5" y2="286" stroke="#0c0c0c" stroke-width="1.4"/>
<text x="327.7" y="289.35" font-size="9.6" font-weight="bold" text-anchor="end" fill="#000" textLength="14.64" lengthAdjust="spacingAndGlyphs" stroke="#000" stroke-width="0.2">125</text>
<line x1="328.5" y1="310.75" x2="332.5" y2="310.75" stroke="#0c0c0c" stroke-width="1.4"/>
<text x="327.7" y="314.1" font-size="9.6" font-weight="bold" text-anchor="end" fill="#000" textLength="14.64" lengthAdjust="spacingAndGlyphs" stroke="#000" stroke-width="0.2">100</text>
<line x1="328.5" y1="335.5" x2="332.5" y2="335.5" stroke="#0c0c0c" stroke-width="1.4"/>
<text x="327.7" y="338.85" font-size="9.6" font-weight="bold" text-anchor="end" fill="#000" textLength="9.76" lengthAdjust="spacingAndGlyphs" stroke="#000" stroke-width="0.2">75</text>
<line x1="328.5" y1="360.25" x2="332.5" y2="360.25" stroke="#0c0c0c" stroke-width="1.4"/>
<text x="327.7" y="363.6" font-size="9.6" font-weight="bold" text-anchor="end" fill="#000" textLength="9.76" lengthAdjust="spacingAndGlyphs" stroke="#000" stroke-width="0.2">50</text>
<line x1="328.5" y1="384.25" x2="332.5" y2="384.25" stroke="#0c0c0c" stroke-width="1.4"/>
<text x="327.7" y="387.6" font-size="9.6" font-weight="bold" text-anchor="end" fill="#000" textLength="9.76" lengthAdjust="spacingAndGlyphs" stroke="#000" stroke-width="0.2">25</text>
<line x1="328.5" y1="409" x2="332.5" y2="409" stroke="#0c0c0c" stroke-width="1.4"/>
<text x="327.7" y="412.35" font-size="9.6" font-weight="bold" text-anchor="end" fill="#000" textLength="4.88" lengthAdjust="spacingAndGlyphs" stroke="#000" stroke-width="0.2">0</text>
<text x="294.6" y="261.8" font-size="17" font-weight="bold" text-anchor="start" fill="#000" >D</text>
<polyline points="375,281 375,267.3 408,267.3" fill="none" stroke="#1c1c1c" stroke-width="1.25"/>
<polyline points="472.5,267.3 502.5,267.3 502.5,281" fill="none" stroke="#1c1c1c" stroke-width="1.25"/>
<text x="408" y="269.8" font-size="11.5" font-weight="bold" text-anchor="start" fill="#000" textLength="64.5" lengthAdjust="spacingAndGlyphs" stroke="#000" stroke-width="0.2">FLAG-hBAFF</text>
<polyline points="363,442.25 363,455.1 408.2,455.1" fill="none" stroke="#262626" stroke-width="1.1"/>
<polyline points="454.29999999999995,455.1 501.75,455.1 501.75,442.25" fill="none" stroke="#262626" stroke-width="1.1"/>
<text x="411.5" y="458.40000000000003" font-size="9.5" font-weight="normal" text-anchor="start" fill="#2e2e2e" textLength="40.89999999999998" lengthAdjust="spacingAndGlyphs" >anti-FLAG</text>
<polyline points="343.25,464 343.25,476 398.1,476" fill="none" stroke="#262626" stroke-width="1.1"/>
<polyline points="437.6,476 501.75,476 501.75,464" fill="none" stroke="#262626" stroke-width="1.1"/>
<text x="400.1" y="479.3" font-size="9.5" font-weight="normal" text-anchor="start" fill="#2e2e2e" textLength="35.69999999999999" lengthAdjust="spacingAndGlyphs" >anti-IgM</text>
<text x="308.5" y="350" font-size="9.6" font-weight="bold" text-anchor="middle" fill="#000" textLength="38.8" lengthAdjust="spacingAndGlyphs" transform="rotate(-90 308.5 350)" stroke="#000" stroke-width="0.2">cpm x10<tspan dy="-2.5" font-size="6.1">3</tspan></text>
<line x1="376.9" y1="285.3" x2="408.5" y2="285.3" stroke="#444" stroke-width="1"/>
<text x="398.0" y="281.9" font-size="9.5" font-weight="bold" text-anchor="end" fill="#1a1a1a" textLength="9.4" lengthAdjust="spacingAndGlyphs" >ns</text>
<circle cx="478.50" cy="310.6" r="1.6" fill="#222"/><circle cx="483.75" cy="310.6" r="1.6" fill="#222"/><circle cx="489.00" cy="310.6" r="1.6" fill="#222"/>
<polyline points="488.5,317.5 479.4,317.5 479.4,344.5" fill="none" stroke="#6e6e6e" stroke-width="1.1"/>
</svg>
</body></html>
